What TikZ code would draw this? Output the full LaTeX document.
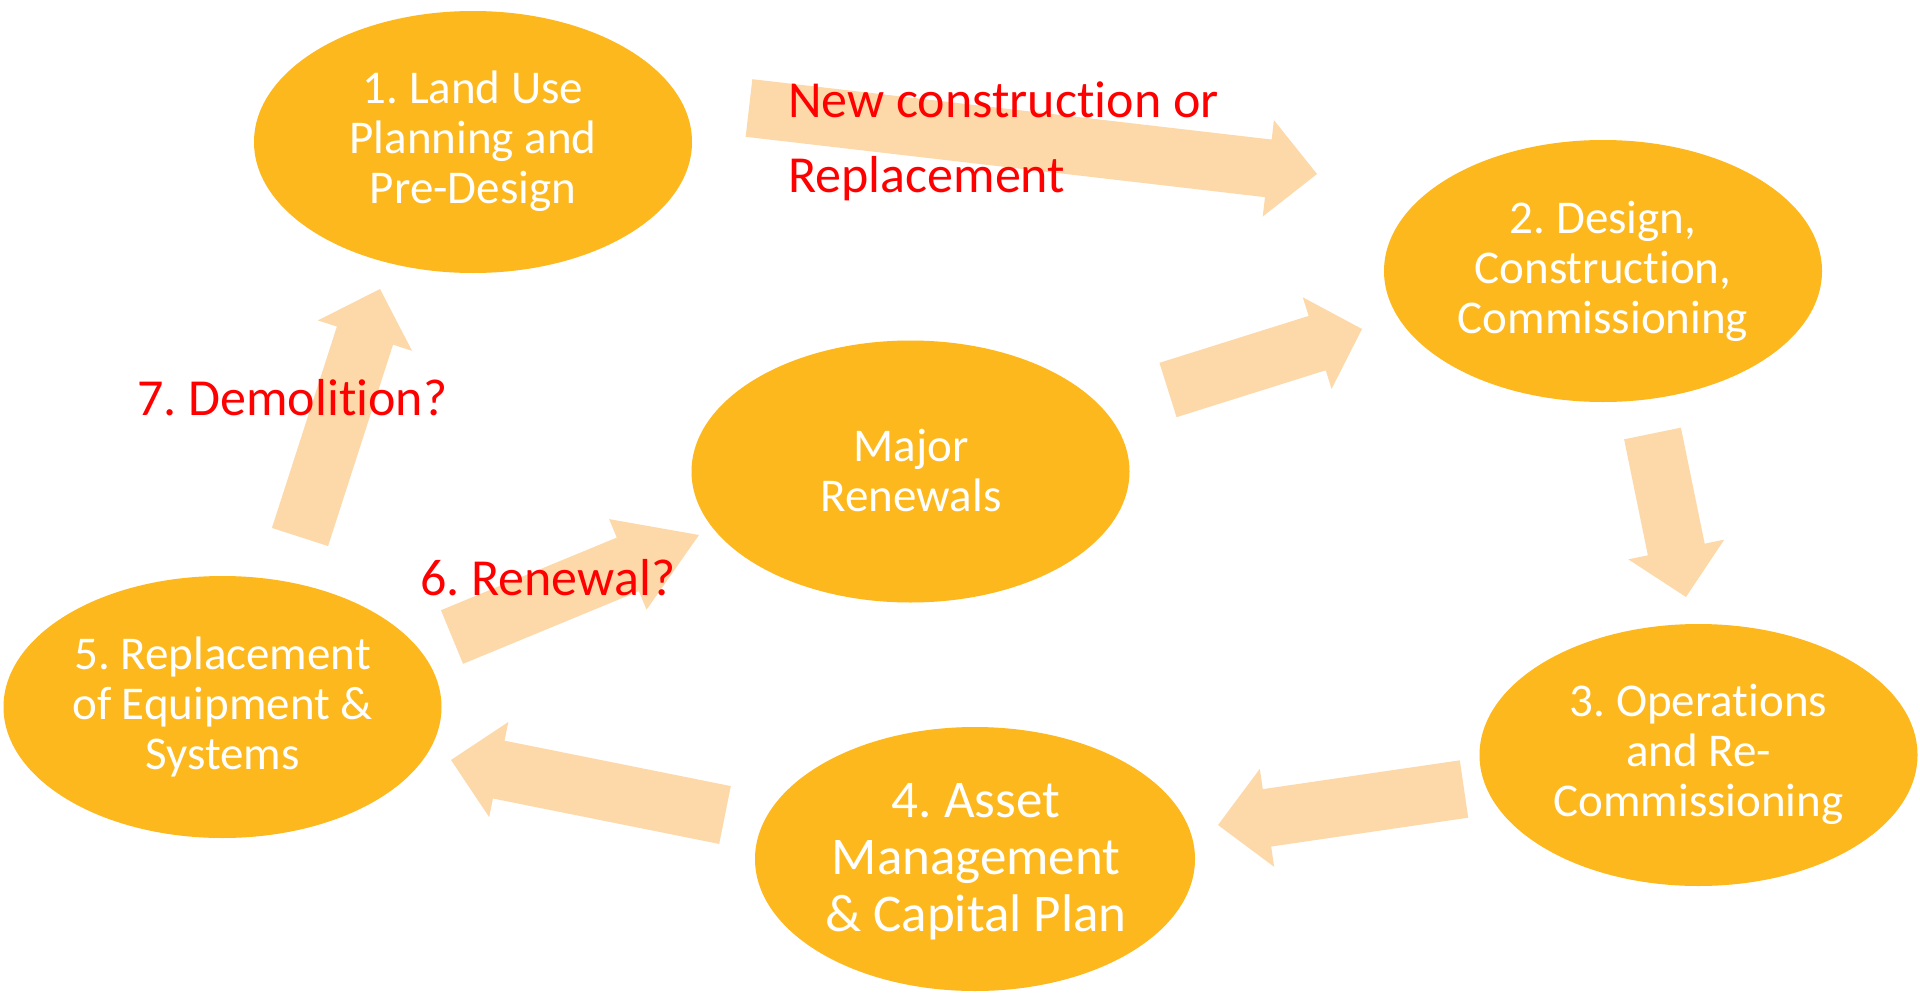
\documentclass[tikz,border=0pt]{standalone}
\usepackage{fontspec}
\setmainfont{Carlito}[Ligatures=NoCommon]
\usetikzlibrary{shapes.geometric,calc}
\definecolor{gold}{HTML}{FDB81E}
\definecolor{peach}{HTML}{FDD9A9}
\definecolor{redlbl}{HTML}{FF0000}
\frenchspacing
% block arrow: #1 tail coordinate, #2 tip coordinate, #3 half shaft width, #4 half head width, #5 head length
\newcommand\blockarr[5]{%
  \coordinate (#1-b) at ($(#2)!#5pt!(#1)$);
  \fill[arrowfill] ($(#1)!#3pt!90:(#2)$) -- ($(#1-b)!#3pt!90:(#2)$) -- ($(#1-b)!#4pt!90:(#2)$) -- (#2)
    -- ($(#1-b)!#4pt!-90:(#2)$) -- ($(#1-b)!#3pt!-90:(#2)$) -- ($(#1)!#3pt!-90:(#2)$) -- cycle;
}
\begin{document}
\frenchspacing
\begin{tikzpicture}[x=1pt, y=-1pt,
  stage/.style={ellipse, fill=gold, minimum width=438pt, minimum height=262pt, inner sep=0pt},
  stagetext/.style={text=white, align=center, inner sep=0pt, font=\fontsize{47}{50}\selectfont},
  lbl/.style={text=redlbl, inner sep=0pt, font=\fontsize{52}{75}\selectfont},
  arrowfill/.style={fill=peach}]
\useasboundingbox (0,0) rectangle (1920,993);
\fill[white] (0,0) rectangle (1920,993);

% arrow end points
\coordinate (a1t) at (749,108);   \coordinate (a1h) at (1317,174);
\coordinate (a2t) at (1168,390);  \coordinate (a2h) at (1362,329);
\coordinate (a3t) at (1652.5,433.5); \coordinate (a3h) at (1686,597);
\coordinate (a4t) at (1464,789);  \coordinate (a4h) at (1218,825);
\coordinate (a5t) at (725,815);   \coordinate (a5h) at (451,760);
\coordinate (a6t) at (452,637);   \coordinate (a6h) at (699,535);
\coordinate (a7t) at (300,537);   \coordinate (a7h) at (380,289);

\blockarr{a1t}{a1h}{29}{48.5}{49}
\blockarr{a2t}{a2h}{28.5}{48}{47}
\blockarr{a3t}{a3h}{29}{49}{48.5}
\blockarr{a4t}{a4h}{29}{49.5}{49.5}
\blockarr{a5t}{a5h}{29.5}{48.5}{48.7}
\blockarr{a6t}{a6h}{29}{49}{77}
\blockarr{a7t}{a7h}{29.5}{49.5}{49}

% stages
\node[stage] (e1) at (473,142) {};
\node[stage] (e2) at (1603,271) {};
\node[stage] (e3) at (1698.5,755) {};
\node[stage, minimum width=440pt, minimum height=264pt] (e4) at (975,859) {};
\node[stage] (e5) at (222.5,707) {};
\node[stage] (em) at (910.5,471.5) {};

\node[stagetext] (t1) at (473,143) {\strut 1. Land Use\\Planning and\\Pre-Design\strut};
\node[stagetext] (t2) at (1603,273) {\strut 2. Design,\\Construction,\\Commissioning\strut};
\node[stagetext] (t3) at (1698.5,756.5) {\strut 3. Operations\\and Re-\\Commissioning\strut};
\node[stagetext, font=\fontsize{53}{57}\selectfont] (t4) at (976,863) {\strut 4. Asset\\Management\\\& Capital Plan\strut};
\node[stagetext] (t5) at (222.5,709.5) {\strut 5. Replacement\\of Equipment \&\\Systems\strut};
\node[stagetext] (tm) at (911,476) {\strut Major\\Renewals\strut};

% labels
\node[lbl, align=left, anchor=north west] (l1) at (788,64.5) {\strut New construction or\\Replacement\strut};
\node[lbl, anchor=base west] (l7) at (137,415) {7. Demolition?};
\node[lbl, anchor=base west] (l6) at (420,595) {6. Renewal?};
\end{tikzpicture}
\end{document}
